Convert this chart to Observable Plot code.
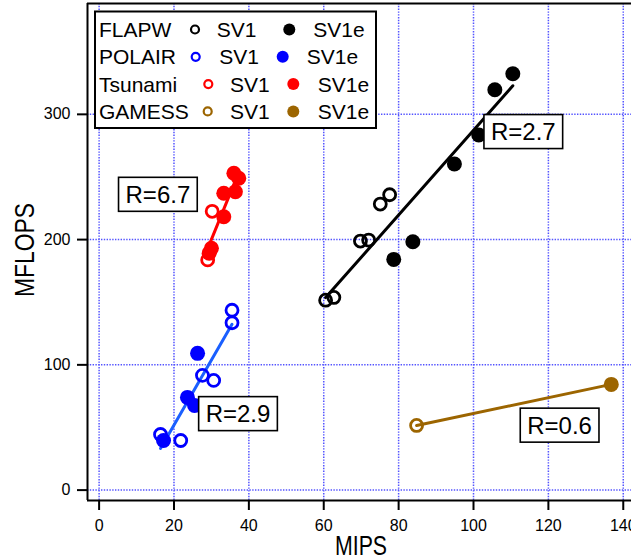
<!DOCTYPE html>
<html>
<head>
<meta charset="utf-8">
<script src="https://cdn.jsdelivr.net/npm/d3@7"></script>
<script src="https://cdn.jsdelivr.net/npm/@observablehq/plot@0.6"></script>
<style>
  body { margin: 0; background: #fff; }
  svg { font-family: "Liberation Sans", Arial, sans-serif; }
</style>
</head>
<body>
<div id="chart"></div>
<script>
// ---- data ----
const codes = ["FLAPW", "POLAIR", "Tsunami", "GAMESS"];
const pointColors = ["#000000", "#0000ff", "#ff0000", "#9c6500"];
const lineColors = ["#000000", "#1a5fff", "#ff0000", "#9c6500"];
const systems = ["SV1", "SV1e"];
const xTicks = [0, 20, 40, 60, 80, 100, 120, 140];
const yTicks = [0, 100, 200, 300];
const xDomain = [-3.1, 142.2];
const yDomain = [-8.3, 388.5];

const flapwSV1Mips = [60.5, 62.7, 69.8, 72.0, 75.1, 77.6];
const flapwSV1Mflops = [151.6, 153.8, 198.8, 199.6, 228.4, 235.8];
const flapwSV1eMips = [78.7, 83.8, 94.9, 101.4, 105.7, 110.5];
const flapwSV1eMflops = [184.2, 198.3, 260.4, 283.6, 319.6, 332.4];

const polairSV1Mips = [35.5, 35.5, 27.6, 30.6, 16.4, 21.8];
const polairSV1Mflops = [143.6, 133.6, 91.6, 87.6, 44.4, 39.6];
const polairSV1eMips = [26.3, 23.6, 25.5, 17.2];
const polairSV1eMflops = [109.2, 74.0, 67.6, 39.6];

const tsunamiSV1Mips = [30.2, 29.0];
const tsunamiSV1Mflops = [222.6, 183.8];
const tsunamiSV1eMips = [36.0, 37.3, 33.3, 36.4, 33.3, 30.0, 29.4];
const tsunamiSV1eMflops = [253.0, 249.0, 237.0, 238.2, 218.2, 193.0, 189.2];

const gamessSV1Mips = [84.8];
const gamessSV1Mflops = [51.6];
const gamessSV1eMips = [136.8];
const gamessSV1eMflops = [84.4];

const ratioLabels = ["R=2.7", "R=2.9", "R=6.7", "R=0.6"];
const ratioLabelMips = [113.3, 37.1, 15.7, 123.0];
const ratioLabelMflops = [285.6, 60.4, 235.5, 51.2];

// ---- build table ----
const series = [
  ["FLAPW", "SV1", flapwSV1Mips, flapwSV1Mflops],
  ["FLAPW", "SV1e", flapwSV1eMips, flapwSV1eMflops],
  ["POLAIR", "SV1", polairSV1Mips, polairSV1Mflops],
  ["POLAIR", "SV1e", polairSV1eMips, polairSV1eMflops],
  ["Tsunami", "SV1", tsunamiSV1Mips, tsunamiSV1Mflops],
  ["Tsunami", "SV1e", tsunamiSV1eMips, tsunamiSV1eMflops],
  ["GAMESS", "SV1", gamessSV1Mips, gamessSV1Mflops],
  ["GAMESS", "SV1e", gamessSV1eMips, gamessSV1eMflops]
];
const points = series.flatMap(([code, system, xs, ys]) =>
  xs.map((m, i) => ({code, system, mips: m, mflops: ys[i]})));
const labels = ratioLabels.map((t, i) => ({text: t, mips: ratioLabelMips[i], mflops: ratioLabelMflops[i]}));

const gridStyle = {stroke: "#4a4aff", strokeOpacity: 0.95, strokeWidth: 1.5, strokeDasharray: "1.4,1.4"};

const chart = Plot.plot({
  width: 631,
  height: 558,
  marginLeft: 87,
  marginRight: 0,
  marginTop: 3,
  marginBottom: 58,
  style: {fontFamily: "'Liberation Sans', Arial, sans-serif", fontSize: "16px", background: "white", color: "black"},
  x: {domain: xDomain},
  y: {domain: yDomain},
  color: {domain: codes, range: pointColors},
  marks: [
    Plot.gridX(xTicks, gridStyle),
    Plot.gridY(yTicks, gridStyle),
    ...codes.map((c, i) => Plot.linearRegressionY(points.filter(d => d.code === c), {
      x: "mips", y: "mflops", stroke: lineColors[i], strokeWidth: 3, ci: 0
    })),
    Plot.dot(points.filter(d => d.system === "SV1"), {
      x: "mips", y: "mflops", stroke: "code", fill: "none", r: 6, strokeWidth: 2.8
    }),
    Plot.dot(points.filter(d => d.system === "SV1e"), {
      x: "mips", y: "mflops", fill: "code", r: 7.5
    }),
    Plot.text(labels, {x: "mips", y: "mflops", text: "text", fontSize: 24, fill: "black"}),
    Plot.ruleX([xDomain[0]], {stroke: "black", strokeWidth: 2}),
    Plot.ruleY([yDomain[0]], {stroke: "black", strokeWidth: 2}),
    Plot.ruleY([yDomain[1]], {stroke: "black", strokeWidth: 2}),
    Plot.axisX({ticks: xTicks, tickSize: 10, tickPadding: 9, strokeWidth: 2, label: null, fontSize: 16}),
    Plot.axisY({ticks: yTicks, tickSize: 10, tickPadding: 7, strokeWidth: 2, label: null, fontSize: 16})
  ]
});

document.getElementById("chart").appendChild(chart);

const svg = d3.select(chart);

// boxes behind ratio labels
svg.selectAll('g[aria-label="text"] text').each(function () {
  const b = this.getBBox();
  const padX = 7, padY = 3.5;
  const r = document.createElementNS("http://www.w3.org/2000/svg", "rect");
  r.setAttribute("x", b.x - padX);
  r.setAttribute("y", b.y - padY);
  r.setAttribute("width", b.width + 2 * padX);
  r.setAttribute("height", b.height + 2 * padY);
  r.setAttribute("fill", "white");
  r.setAttribute("stroke", "black");
  r.setAttribute("stroke-width", 1.6);
  const tr = this.getAttribute("transform");
  if (tr) r.setAttribute("transform", tr);
  this.parentNode.insertBefore(r, this);
});

// axis titles
svg.append("text")
  .attr("x", 361).attr("y", 555)
  .attr("text-anchor", "middle")
  .attr("font-size", 27)
  .attr("textLength", 52)
  .attr("lengthAdjust", "spacingAndGlyphs")
  .attr("fill", "black")
  .text("MIPS");
svg.append("text")
  .attr("transform", "translate(34,250) rotate(-90)")
  .attr("text-anchor", "middle")
  .attr("font-size", 28)
  .attr("textLength", 94)
  .attr("lengthAdjust", "spacingAndGlyphs")
  .attr("fill", "black")
  .text("MFLOPS");

// legend
const lg = svg.append("g").attr("text-anchor", "start");
lg.append("rect")
  .attr("x", 95).attr("y", 11.5).attr("width", 281).attr("height", 116.5)
  .attr("fill", "white").attr("stroke", "black").attr("stroke-width", 2);
const rowLayout = [
  {base: 37, open: 195, sv1: 216.7, filled: 289.3, sv1e: 313.3},
  {base: 64.3, open: 195.7, sv1: 219.3, filled: 282.7, sv1e: 306.7},
  {base: 91.6, open: 208.3, sv1: 230, filled: 293.3, sv1e: 317.7},
  {base: 118.9, open: 207.7, sv1: 230, filled: 293.3, sv1e: 317.7}
];
codes.forEach((c, i) => {
  const L = rowLayout[i];
  const col = pointColors[i];
  const cy = L.base - 7.5;
  const t = (x, s) => lg.append("text").attr("x", x).attr("y", L.base)
    .attr("font-size", 21).attr("text-anchor", "start").attr("fill", "black").text(s);
  t(99, c);
  lg.append("circle").attr("cx", L.open).attr("cy", cy).attr("r", 4).attr("fill", "none")
    .attr("stroke", col).attr("stroke-width", 2.2);
  t(L.sv1, systems[0]);
  lg.append("circle").attr("cx", L.filled).attr("cy", cy).attr("r", 6).attr("fill", col);
  t(L.sv1e, systems[1]);
});
</script>
</body>
</html>
